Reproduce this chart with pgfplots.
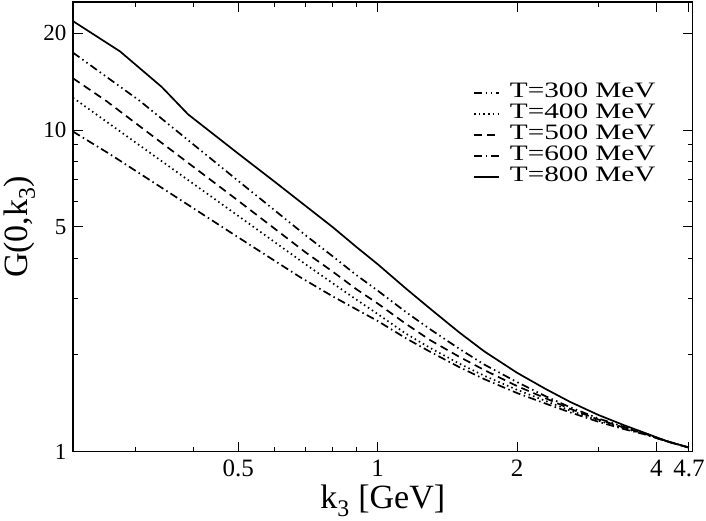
\documentclass[border=0pt]{standalone}
\usepackage{fontspec}
\setmainfont{Liberation Serif}
\newfontfamily\legfont[FakeStretch=1.33]{Liberation Serif}
\usepackage{pgfplots}
\pgfplotsset{compat=1.18}
\usepackage{pgfplotstable}

\pgfplotstableread{
k G
0.22 21.8
0.278 17.55
0.342 13.61
0.390 11.18
0.5 8.45
0.6 6.90
0.7 5.80
0.8 4.99
0.9 4.33
1.0 3.83
1.15 3.22
1.3 2.78
1.5 2.35
1.7 2.05
2.0 1.76
2.3 1.57
2.6 1.43
3.0 1.30
3.4 1.21
3.8 1.14
4.2 1.08
4.7 1.03
}\tEight

\pgfplotstableread{
k G
0.22 17.4
0.307 12.3
0.5 6.95
0.7 4.70
0.8 4.05
0.9 3.54
1.0 3.17
1.15 2.72
1.3 2.40
1.5 2.09
1.7 1.866
2.0 1.646
2.3 1.49
2.6 1.376
3.0 1.268
3.4 1.195
3.8 1.137
4.2 1.08
4.7 1.03
}\tThree

\pgfplotstableread{
k G
0.22 12.6
0.5 5.41
0.7 3.82
0.8 3.34
0.9 2.97
1.0 2.68
1.15 2.33
1.3 2.10
1.5 1.88
1.7 1.722
2.0 1.558
2.3 1.44
2.6 1.344
3.0 1.248
3.4 1.183
3.8 1.131
4.2 1.078
4.7 1.03
}\tFour

\pgfplotstableread{
k G
0.22 14.48
0.26 12.29
0.5 6.03
0.7 4.16
0.8 3.63
0.9 3.20
1.0 2.89
1.15 2.50
1.3 2.22
1.5 1.974
1.7 1.794
2.0 1.60
2.3 1.468
2.6 1.361
3.0 1.258
3.4 1.189
3.8 1.134
4.2 1.079
4.7 1.03
}\tFive

\pgfplotstableread{
k G
0.22 9.89
0.2644 8.41
0.5 4.64
0.68 3.49
0.8 3.04
0.9 2.77
1.0 2.55
1.15 2.254
1.3 2.043
1.5 1.833
1.7 1.681
2.0 1.522
2.3 1.413
2.6 1.326
3.0 1.238
3.4 1.176
3.8 1.129
4.2 1.077
4.7 1.03
}\tSix

\begin{document}
\begin{tikzpicture}
\begin{axis}[
  xmode=log, ymode=log,
  scale only axis, width=619.7pt, height=449.7pt,
  at={(0pt,0pt)}, anchor=south west,
  xmin=0.22, xmax=4.79, ymin=1, ymax=25,
  xtick={0.5,1,2,4,4.7}, xticklabels={0.5,1,2,4,4.7},
  ytick={1,5,10,20}, yticklabels={1,5,10,20},
  minor xtick={0.3,0.4,0.6,0.7,0.8,0.9,3},
  minor ytick={2,3,4,6,7,8,9},
  tick align=inside,
  major tick length=10pt, minor tick length=5pt,
  every tick/.style={black, line width=1pt},
  axis line style={line width=1.2pt},
  xticklabel style={font=\fontsize{25}{30}\selectfont, anchor=base, inner sep=0pt, yshift=-25pt},
  yticklabel style={font=\fontsize{23}{28}\selectfont, anchor=east, inner sep=0pt, xshift=-6.5pt},
  xlabel={k\textsubscript{3} [GeV]},
  ylabel={G(0,k\textsubscript{3})},
  label style={font=\fontsize{34}{40}\selectfont},
  xlabel style={at={(axis description cs:0.5,-0.1274)}, anchor=base},
  ylabel style={at={(axis description cs:-0.073,0.5)}, anchor=base},
  legend style={at={(rel axis cs:0.6455,0.8214)}, anchor=north west, draw=none, fill=none,
    inner sep=0pt, row sep=0pt, font=\legfont\fontsize{22}{21}\selectfont,
    nodes={inner sep=0pt, text height=15pt, text depth=6pt}},
  legend cell align=left,
  legend image code/.code={\draw[#1] (0pt,0pt) -- (25pt,0pt);},
  every axis plot/.append style={line width=1.7pt, black},
]
\addplot[dash pattern=on 8pt off 3.5pt on 1.5pt off 3.5pt on 1.5pt off 3.5pt] table[x=k,y=G] {\tThree};
\addlegendentry{\hspace*{10pt}T=300 MeV}
\addplot[dash pattern=on 1.5pt off 3.2pt] table[x=k,y=G] {\tFour};
\addlegendentry{\hspace*{10pt}T=400 MeV}
\addplot[dash pattern=on 8pt off 5pt] table[x=k,y=G] {\tFive};
\addlegendentry{\hspace*{10pt}T=500 MeV}
\addplot[dash pattern=on 8pt off 3.5pt on 1.5pt off 3.5pt] table[x=k,y=G] {\tSix};
\addlegendentry{\hspace*{10pt}T=600 MeV}
\addplot[solid] table[x=k,y=G] {\tEight};
\addlegendentry{\hspace*{10pt}T=800 MeV}
\end{axis}
\pgfresetboundingbox
\path[use as bounding box] (-73pt,-69.3pt) rectangle (633pt,451.7pt);
\end{tikzpicture}
\end{document}
